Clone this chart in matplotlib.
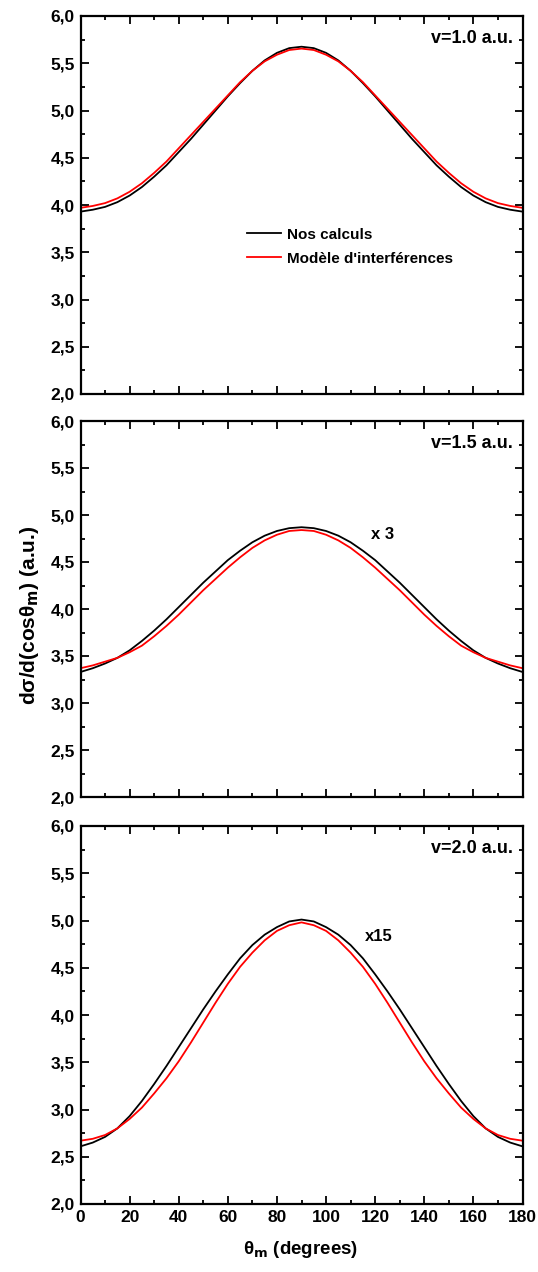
import matplotlib
matplotlib.use("Agg")
import matplotlib.pyplot as plt
from matplotlib.ticker import MultipleLocator, FuncFormatter

plt.rcParams['font.family'] = ['Liberation Sans', 'DejaVu Sans']
plt.rcParams['font.weight'] = 'bold'

theta = list(range(0, 181, 5))

# v = 1.0 a.u.
calc_10 = [3.93, 3.95, 3.98, 4.03, 4.10, 4.19, 4.30, 4.42, 4.56, 4.70, 4.85, 5.00, 5.15, 5.29, 5.42, 5.53, 5.61, 5.66, 5.675,
           5.66, 5.61, 5.53, 5.42, 5.29, 5.15, 5.00, 4.85, 4.70, 4.56, 4.42, 4.30, 4.19, 4.10, 4.03, 3.98, 3.95, 3.93]
model_10 = [3.97, 3.99, 4.02, 4.07, 4.14, 4.23, 4.34, 4.46, 4.60, 4.74, 4.88, 5.02, 5.16, 5.30, 5.42, 5.52, 5.59, 5.64, 5.655,
            5.64, 5.59, 5.52, 5.42, 5.30, 5.16, 5.02, 4.88, 4.74, 4.60, 4.46, 4.34, 4.23, 4.14, 4.07, 4.02, 3.99, 3.97]
# v = 1.5 a.u.
calc_15 = [3.33, 3.37, 3.42, 3.48, 3.56, 3.66, 3.77, 3.89, 4.02, 4.15, 4.28, 4.40, 4.52, 4.62, 4.71, 4.78, 4.83, 4.86, 4.87,
           4.86, 4.83, 4.78, 4.71, 4.62, 4.52, 4.40, 4.28, 4.15, 4.02, 3.89, 3.77, 3.66, 3.56, 3.48, 3.42, 3.37, 3.33]
model_15 = [3.37, 3.40, 3.44, 3.48, 3.54, 3.61, 3.71, 3.82, 3.94, 4.07, 4.20, 4.32, 4.44, 4.55, 4.65, 4.73, 4.79, 4.83, 4.84,
            4.83, 4.79, 4.73, 4.65, 4.55, 4.44, 4.32, 4.20, 4.07, 3.94, 3.82, 3.71, 3.61, 3.54, 3.48, 3.44, 3.40, 3.37]
# v = 2.0 a.u.
calc_20 = [2.61, 2.65, 2.71, 2.80, 2.93, 3.09, 3.27, 3.46, 3.66, 3.86, 4.06, 4.25, 4.43, 4.60, 4.74, 4.85, 4.93, 4.99, 5.01,
           4.99, 4.93, 4.85, 4.74, 4.60, 4.43, 4.25, 4.06, 3.86, 3.66, 3.46, 3.27, 3.09, 2.93, 2.80, 2.71, 2.65, 2.61]
model_20 = [2.67, 2.69, 2.73, 2.80, 2.90, 3.02, 3.17, 3.33, 3.51, 3.71, 3.92, 4.13, 4.33, 4.51, 4.66, 4.79, 4.89, 4.95, 4.98,
            4.95, 4.89, 4.79, 4.66, 4.51, 4.33, 4.13, 3.92, 3.71, 3.51, 3.33, 3.17, 3.02, 2.90, 2.80, 2.73, 2.69, 2.67]

panel_labels = ["v=1.0 a.u.", "v=1.5 a.u.", "v=2.0 a.u."]
factor_labels = [None, "x 3", "x15"]
factor_pos = [None, (123, 4.79), (121.5, 4.83)]
legend_labels = ["Nos calculs", "Modèle d'interférences"]

calcs = [calc_10, calc_15, calc_20]
models = [model_10, model_15, model_20]

W, H = 538, 1272
fig = plt.figure(figsize=(W / 100, H / 100), dpi=100)
left = 80.5 / W
width = 442 / W
panels_px = [(16, 394), (421, 797), (826, 1204)]

fmt = FuncFormatter(lambda v, p: ("%.1f" % v).replace('.', ','))

axes = []
for i, (top, bot) in enumerate(panels_px):
    ax = fig.add_axes([left, 1 - bot / H, width, (bot - top) / H])
    axes.append(ax)
    l1, = ax.plot(theta, calcs[i], color='black', lw=1.3, label=legend_labels[0])
    l2, = ax.plot(theta, models[i], color='#ff0000', lw=1.3, label=legend_labels[1])
    ax.set_xlim(0, 180)
    ax.set_ylim(2.0, 6.0)
    ax.xaxis.set_major_locator(MultipleLocator(20))
    ax.xaxis.set_minor_locator(MultipleLocator(10))
    ax.yaxis.set_major_locator(MultipleLocator(0.5))
    ax.yaxis.set_minor_locator(MultipleLocator(0.25))
    ax.yaxis.set_major_formatter(fmt)
    ax.tick_params(which='both', direction='in', top=True, right=True, width=1.3)
    ax.tick_params(which='major', length=5.5)
    ax.tick_params(which='minor', length=3)
    ax.tick_params(axis='y', labelsize=12.5, pad=4)
    ax.tick_params(axis='x', labelsize=12.5, pad=4)
    for lab in ax.get_xticklabels() + ax.get_yticklabels():
        lab.set_fontweight('bold')
    for s in ax.spines.values():
        s.set_linewidth(1.6)
    if i < 2:
        ax.tick_params(axis='x', labelbottom=False)
    ax.text(0.978, 0.962, panel_labels[i], transform=ax.transAxes, ha='right', va='top',
            fontsize=13, fontweight='bold')
    if factor_labels[i]:
        ax.text(factor_pos[i][0], factor_pos[i][1], factor_labels[i], ha='center', va='center',
                fontsize=12, fontweight='bold')
    if i == 0:
        ax.legend(handles=[l1, l2], loc='upper left', bbox_to_anchor=((247 - 80.5) / 442, 0.44),
                  frameon=False, borderpad=0, borderaxespad=0, handlelength=2.2, handletextpad=0.4,
                  labelspacing=0.65, prop={'weight': 'bold', 'size': 11})

fig.text(30 / W, 1 - 615 / H, "dσ/d(cosθ$_\\mathbf{m}$) (a.u.)", rotation=90, ha='center', va='center',
         fontsize=15, fontweight='bold')
fig.text(301 / W, 1 - 1250 / H, "θ$_\\mathbf{m}$ (degrees)", ha='center', va='center',
         fontsize=13.5, fontweight='bold')

fig.savefig("out.png", dpi=100)
